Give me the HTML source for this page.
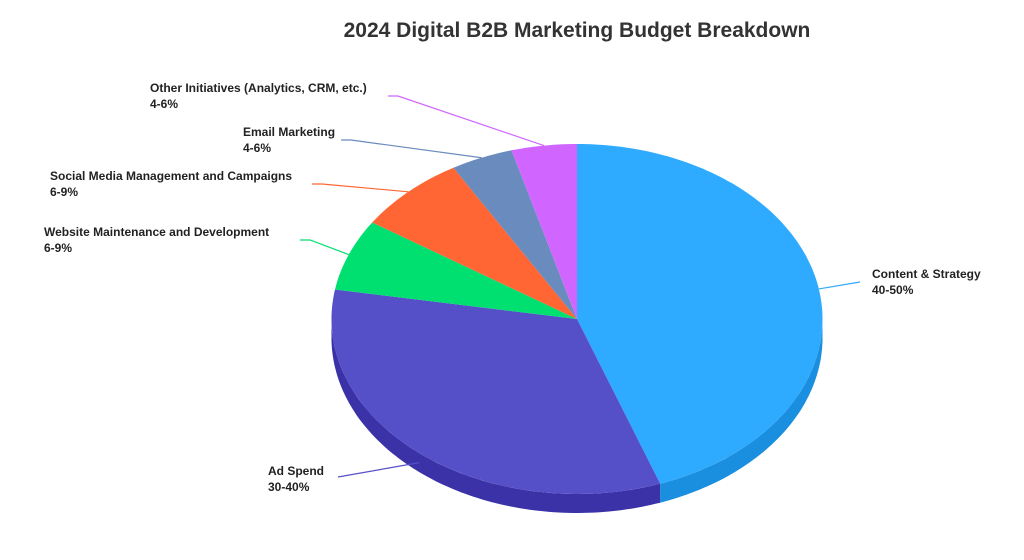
<!DOCTYPE html>
<html><head><meta charset="utf-8"><style>
body{margin:0;background:#fff;font-family:"Liberation Sans",Arial,sans-serif}
svg{display:block}
.lbl{font-size:12px;font-weight:bold;fill:#222}
</style></head><body>
<svg id="chart" width="1024" height="560" xmlns="http://www.w3.org/2000/svg">
<text x="577" y="37" text-anchor="middle" font-size="21" font-weight="bold" fill="#333">2024 Digital B2B Marketing Budget Breakdown</text>
<g id="sides"></g><g id="tops"></g><g id="labels"></g>
</svg>
<script>
const categories=["Content & Strategy","Ad Spend","Website Maintenance and Development","Social Media Management and Campaigns","Email Marketing","Other Initiatives (Analytics, CRM, etc.)"];
const rangeLabels=["40-50%","30-40%","6-9%","6-9%","4-6%","4-6%"];
const values=[44.5,33.2,6.6,7.3,4.1,4.3];
const topColors=["#2eaaff","#5550c8","#00e070","#ff6633","#6a8bbd","#d066ff"];
const sideColors=["#1a8fe0","#3b32a8","#00b85c","#d94f22","#52709f","#a94fd6"];
const cx=577,cy=319,rx=245.5,ry=175,depth=19;
const NS="http://www.w3.org/2000/svg";
function pt(t,dy){return [cx+rx*Math.sin(t),cy-ry*Math.cos(t)+(dy||0)];}
function arcPts(a,b,dy){const p=[];const n=Math.max(2,Math.ceil((b-a)/0.02));for(let i=0;i<=n;i++)p.push(pt(a+(b-a)*i/n,dy));return p;}
const total=values.reduce((s,v)=>s+v,0);
let acc=0;const angles=values.map(v=>{const a=acc/total*2*Math.PI;acc+=v;return [a,acc/total*2*Math.PI];});
const sides=document.getElementById('sides'),tops=document.getElementById('tops'),labels=document.getElementById('labels');
angles.forEach(([a,b],i)=>{
  const s=Math.max(a,Math.PI/2),e=Math.min(b,3*Math.PI/2);
  if(e>s){
    const top=arcPts(s,e,0),bot=arcPts(s,e,depth).reverse();
    const p=document.createElementNS(NS,'path');
    p.setAttribute('d','M'+top.concat(bot).map(q=>q[0].toFixed(1)+','+q[1].toFixed(1)).join('L')+'Z');
    p.setAttribute('fill',sideColors[i]);
    
    
    sides.appendChild(p);
  }
  const pts=arcPts(a,b,0);
  const p=document.createElementNS(NS,'path');
  p.setAttribute('d','M'+cx+','+cy+'L'+pts.map(q=>q[0].toFixed(1)+','+q[1].toFixed(1)).join('L')+'Z');
  p.setAttribute('fill',topColors[i]);
  
  
  tops.appendChild(p);
});
// label layout (positions only)
const lab=[
 {tx:872,ty:278,anchor:'start',line:[[860,282]],elbow:null},
 {tx:268,ty:475,anchor:'start',line:[[338,477]],elbow:null},
 {tx:44,ty:236,anchor:'start',line:[[310,240],[300,240]],elbow:1},
 {tx:50,ty:180,anchor:'start',line:[[322,184],[312,184]],elbow:1},
 {tx:243,ty:136,anchor:'start',line:[[351,140],[341,140]],elbow:1},
 {tx:150,ty:92,anchor:'start',line:[[398,96],[388,96]],elbow:1}
];
angles.forEach(([a,b],i)=>{
  const m=(a+b)/2;const o=pt(m,i<2?(i==1?depth/2:0):0);
  const L=lab[i];
  const pl=document.createElementNS(NS,'polyline');
  pl.setAttribute('points',[o].concat(L.line).map(q=>q[0]+','+q[1]).join(' '));
  pl.setAttribute('fill','none');pl.setAttribute('stroke',topColors[i]);pl.setAttribute('stroke-width','1.2');
  
  
  labels.appendChild(pl);
  const t=document.createElementNS(NS,'text');
  t.setAttribute('class','lbl');t.setAttribute('x',L.tx);t.setAttribute('y',L.ty);
  
  
  const t1=document.createElementNS(NS,'tspan');t1.textContent=categories[i];
  const t2=document.createElementNS(NS,'tspan');t2.setAttribute('x',L.tx);t2.setAttribute('dy','16');t2.textContent=rangeLabels[i];
  t.appendChild(t1);t.appendChild(t2);labels.appendChild(t);
});
</script>
</body></html>
